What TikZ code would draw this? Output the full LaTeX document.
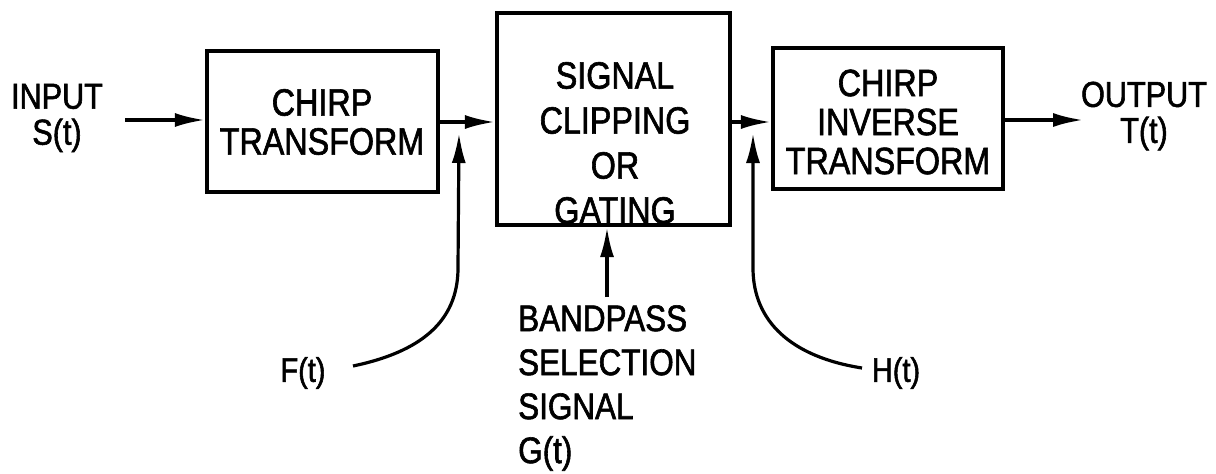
\documentclass[tikz,border=0pt]{standalone}
\usepackage{fontspec}
\setmainfont{Liberation Sans}[FakeStretch=0.85,FakeBold=1.6]
\usetikzlibrary{arrows.meta}
\begin{document}
\begin{tikzpicture}[x=1pt,y=-1pt,
  blk/.style={draw=black,line width=4.2pt,inner sep=0pt},
  txt/.style={inner sep=0pt,align=center,font=\fontsize{38}{39}\selectfont},
  side/.style={inner sep=0pt,align=center,font=\fontsize{36}{36}\selectfont},
  sig/.style={inner sep=0pt,font=\fontsize{34}{34}\selectfont},
  conn/.style={line width=3.2pt,-{Latex[length=30pt,width=14pt]}},
  wire/.style={line width=3.2pt}]
\useasboundingbox (0,0) rectangle (1216,474);
\fill[white] (0,0) rectangle (1216,474);
% boxes
\node[blk,minimum width=231,minimum height=141] (b1) at (322.5,121.5) {};
\node[blk,minimum width=233,minimum height=212] (b2) at (613.5,119) {};
\node[blk,minimum width=230,minimum height=141] (b3) at (888,118.5) {};
% box texts
\node[txt] (t1) at (322,122) {CHIRP\\TRANSFORM};
\node[txt,font=\fontsize{38}{45}\selectfont] (t2) at (615,143) {SIGNAL\\CLIPPING\\OR\\GATING};
\node[txt] (t3) at (888,122) {CHIRP\\INVERSE\\TRANSFORM};
% side labels
\node[side] (in) at (57,118) {INPUT\\S(t)};
\node[side] (out) at (1144,116) {OUTPUT\\T(t)};
\node[sig] (f) at (303,373) {F(t)};
\node[sig] (h) at (896,373) {H(t)};
\node[txt,align=left,anchor=west,font=\fontsize{37}{44}\selectfont] (g) at (518,388) {BANDPASS\\SELECTION\\SIGNAL\\G(t)};
% coordinates
\coordinate (fs) at (353,366);
\coordinate (hs) at (862,368);
\coordinate (gs) at (607,297);
\coordinate (ft) at (459,133);
\coordinate (ht) at (753,133);
% connectors
\draw[conn] (125,120) -- (b1.west |- 0,120);
\draw[conn] (b1.east |- 0,122) -- (b2.west |- 0,122);
\draw[conn] (b2.east |- 0,122) -- (b3.west |- 0,122);
\draw[conn] (b3.east |- 0,120) -- (1083,120);
\draw[conn] (fs) .. controls (420,352) and (458,322) .. (458,268) -- (ft);
\draw[conn] (hs) .. controls (792,357) and (753,322) .. (753,268) -- (ht);
\draw[conn] (gs) -- (gs |- b2.south);
\end{tikzpicture}
\end{document}
